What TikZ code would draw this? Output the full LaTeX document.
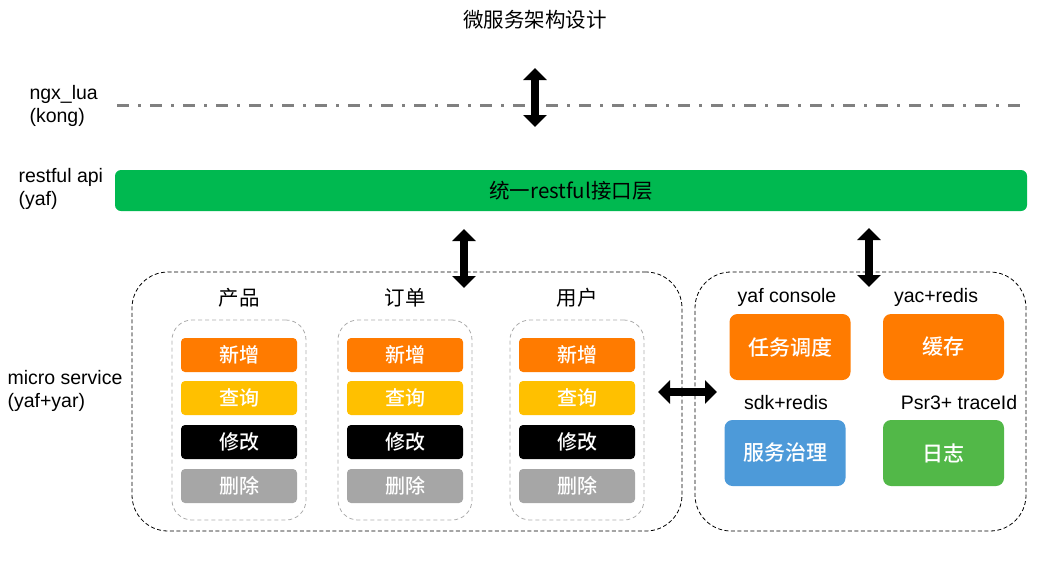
\documentclass[tikz,border=0pt]{standalone}
\usepackage{fontspec}
\setmainfont{Liberation Sans}
\newfontfamily\cjk[BoldFont={Noto Sans CJK SC Medium}]{Noto Sans CJK SC}
\usetikzlibrary{arrows.meta}
\definecolor{opOrange}{HTML}{FF7B00}
\definecolor{opYellow}{HTML}{FFC000}
\definecolor{opGray}{HTML}{A6A6A6}
\definecolor{barGreen}{HTML}{00B950}
\definecolor{logGreen}{HTML}{52B848}
\definecolor{govBlue}{HTML}{4D9AD9}
\definecolor{lineGray}{HTML}{808080}
\tikzset{
	every node/.style = {font=\fontsize{19.5}{23}\selectfont},
	zh/.style = {font=\cjk\fontsize{20.5}{24}\selectfont},
	opbox/.style = {rounded corners=4pt, minimum width=116pt, minimum height=34pt, inner sep=0pt, text=white, font=\cjk\bfseries\fontsize{20}{24}\selectfont},
	svcbox/.style = {rounded corners=8pt, minimum width=121pt, minimum height=66pt, inner sep=0pt, text=white, font=\cjk\bfseries\fontsize{21}{25}\selectfont},
	groupbox/.style = {draw, line width=0.8pt, dash pattern=on 4pt off 2.5pt, rounded corners=36pt, inner sep=0pt},
	colbox/.style = {draw=gray!65, line width=0.8pt, dash pattern=on 4pt off 3pt, rounded corners=20pt, inner sep=0pt},
	dbl/.style = {line width=8pt, {Triangle[width=23pt,length=12pt]}-{Triangle[width=23pt,length=12pt]}}
}

\begin{document}
\begin{tikzpicture}[x=1pt, y=-1pt]
		\useasboundingbox (0,0) rectangle (1059,587);
		% title
		\node[zh] (title) at (535,20) {微服务架构设计};
		
		% layer labels
		\node[align=left, anchor=west] (gwlabel) at (26,106) {ngx\_lua\\(kong)};
		\node[align=left, anchor=west] (apilabel) at (15,189) {restful api\\(yaf)};
		\node[align=left, anchor=west] (mslabel) at (4,391) {micro service\\(yaf+yar)};
		
		% gateway line
		\coordinate (gwL) at (117,105);
		\coordinate (gwR) at (1023,105);
		\draw[lineGray, line width=3pt, dash pattern=on 12pt off 9pt on 3pt off 9pt] (gwL) -- (gwR);
		
		% restful layer
		\node[zh, fill=barGreen, rounded corners=6pt, minimum width=912pt, minimum height=41pt, inner sep=0pt] (api) at (571,190.5) {统一restful接口层};
		
		% service groups
		\node[groupbox, minimum width=550pt, minimum height=259pt] (ms) at (407,401.5) {};
		\node[groupbox, minimum width=331pt, minimum height=259pt] (infra) at (860.5,401.5) {};
		
		% business services
		\foreach \x/\name/\n in {239/产品/a, 405/订单/b, 577/用户/c} {
			\node[zh] (title\n) at (\x,298) {\name};
			\node[colbox, minimum width=134pt, minimum height=200pt] (col\n) at (\x,420) {};
			\foreach \y/\op/\c/\k in {355/新增/opOrange/add, 398/查询/opYellow/find, 442/修改/black/edit, 486/删除/opGray/del}
				\node[opbox, fill=\c] (\k\n) at (\x,\y) {\op};
		}
		
		% infra services
		\node (consolelabel) at (787,297) {yaf console};
		\node (cachelabel) at (936,297) {yac+redis};
		\node (govlabel) at (786,403) {sdk+redis};
		\node (loglabel) at (959,403) {Psr3+ traceId};
		\node[svcbox, fill=opOrange] (sched) at (790,347) {任务调度};
		\node[svcbox, fill=opOrange] (cache) at (943.5,347) {缓存};
		\node[svcbox, fill=govBlue] (gov) at (785,453) {服务治理};
		\node[svcbox, fill=logGreen] (log) at (943.5,453) {日志};
		
		% arrows
		\coordinate (a1) at (535,68);
		\coordinate (a2) at (535,127);
		\coordinate (b1) at (464,229);
		\coordinate (b2) at (464,288);
		\coordinate (c1) at (869,228);
		\coordinate (c2) at (869,287);
		\coordinate (d1) at (658,392);
		\coordinate (d2) at (717,392);
		\draw[dbl] (a1) -- (a2);
		\draw[dbl] (b1) -- (b2);
		\draw[dbl] (c1) -- (c2);
		\draw[dbl] (d1) -- (d2);
	\end{tikzpicture}
\end{document}
